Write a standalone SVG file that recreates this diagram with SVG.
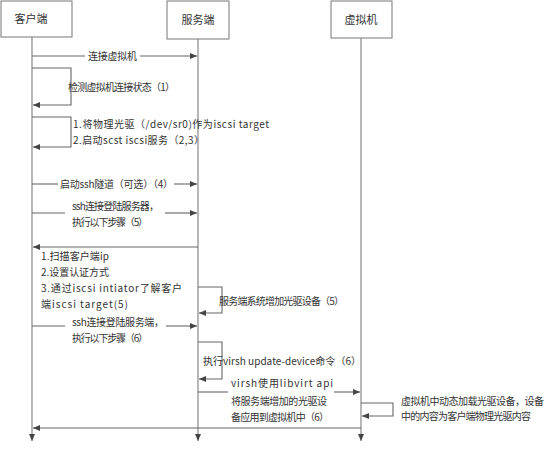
<svg xmlns="http://www.w3.org/2000/svg" width="548" height="450" viewBox="0 0 548 450">
<defs>
<marker id="ah" markerWidth="8" markerHeight="6" refX="7" refY="3" orient="auto" markerUnits="userSpaceOnUse">
<path d="M0,0 L7,3 L0,6 Z" fill="#444"/>
</marker>
</defs>
<style>
.box{fill:#fff;stroke:#777;stroke-width:1}
.life{fill:none;stroke:#888;stroke-width:1.2}
.msg{fill:none;stroke:#666;stroke-width:1.1}
text{font-family:"Noto Sans CJK SC","Liberation Sans",sans-serif;font-size:10px;fill:#333}
.lbl{text-anchor:middle;font-size:11px}
</style>
<rect x="0" y="0" width="548" height="450" fill="#fff"/>
<g id="node-client">
<rect class="box" x="1" y="1" width="71" height="36"/>
<text class="lbl" x="31" y="23">客户端</text>
<line class="life" x1="32" y1="37" x2="32" y2="441" marker-end="url(#ah)"/>
</g>
<g id="node-server">
<rect class="box" x="167" y="1" width="62" height="38"/>
<text class="lbl" x="198" y="24">服务端</text>
<line class="life" x1="198" y1="39" x2="198" y2="441" marker-end="url(#ah)"/>
</g>
<g id="node-vm">
<rect class="box" x="331" y="1" width="61" height="37"/>
<text class="lbl" x="361" y="24">虚拟机</text>
<line class="life" x1="361" y1="38" x2="361" y2="441" marker-end="url(#ah)"/>
</g>
<g id="connectors">
<line class="msg" x1="32" y1="56" x2="85" y2="56"/>
<line class="msg" x1="140" y1="56" x2="197" y2="56" marker-end="url(#ah)"/>
<polyline class="msg" points="32,68 71,68 71,105 33,105" marker-end="url(#ah)"/>
<polyline class="msg" points="32,117 71,117 71,147 33,147" marker-end="url(#ah)"/>
<line class="msg" x1="32" y1="184" x2="58" y2="184"/>
<line class="msg" x1="174" y1="184" x2="197" y2="184" marker-end="url(#ah)"/>
<line class="msg" x1="32" y1="213" x2="65" y2="213"/>
<line class="msg" x1="165" y1="213" x2="197" y2="213" marker-end="url(#ah)"/>
<line class="msg" x1="198" y1="247" x2="33" y2="247" marker-end="url(#ah)"/>
<polyline class="msg" points="198,287 222,287 222,313 199,313" marker-end="url(#ah)"/>
<line class="msg" x1="32" y1="326" x2="65" y2="326"/>
<line class="msg" x1="166" y1="326" x2="197" y2="326" marker-end="url(#ah)"/>
<polyline class="msg" points="198,342 222,342 222,379 199,379" marker-end="url(#ah)"/>
<line class="msg" x1="198" y1="392" x2="228" y2="392"/>
<line class="msg" x1="334" y1="392" x2="360" y2="392" marker-end="url(#ah)"/>
<polyline class="msg" points="361,403 393,403 393,416 362,416" marker-end="url(#ah)"/>
<line class="msg" x1="361" y1="428" x2="33" y2="428" marker-end="url(#ah)"/>
</g>
<g id="labels">
<text x="88" y="60" textLength="49" lengthAdjust="spacing">连接虚拟机</text>
<text x="68" y="91" textLength="107" lengthAdjust="spacing">检测虚拟机连接状态（1）</text>
<text x="73" y="128" textLength="196" lengthAdjust="spacing">1.将物理光驱（/dev/sr0)作为iscsi target</text>
<text x="73" y="144" textLength="131" lengthAdjust="spacing">2.启动scst iscsi服务（2,3）</text>
<text x="60" y="188" textLength="113" lengthAdjust="spacing">启动ssh隧道（可选）（4）</text>
<text x="72" y="210" textLength="87" lengthAdjust="spacing">ssh连接登陆服务器，</text>
<text x="72" y="226" textLength="76" lengthAdjust="spacing">执行以下步骤（5）</text>
<text x="41" y="260" textLength="68" lengthAdjust="spacing">1.扫描客户端ip</text>
<text x="41" y="276" textLength="68" lengthAdjust="spacing">2.设置认证方式</text>
<text x="41" y="292" textLength="141" lengthAdjust="spacing">3.通过iscsi intiator了解客户</text>
<text x="41" y="308" textLength="87" lengthAdjust="spacing">端iscsi target(5)</text>
<text x="219" y="305" textLength="125" lengthAdjust="spacing">服务端系统增加光驱设备（5）</text>
<text x="72" y="326" textLength="92" lengthAdjust="spacing">ssh连接登陆服务端，</text>
<text x="72" y="342" textLength="76" lengthAdjust="spacing">执行以下步骤（6）</text>
<text x="203" y="365" textLength="158" lengthAdjust="spacing">执行virsh update-device命令（6）</text>
<text x="231" y="387" textLength="102" lengthAdjust="spacing">virsh使用libvirt api</text>
<text x="231" y="405" textLength="96" lengthAdjust="spacing">将服务端增加的光驱设</text>
<text x="231" y="421" textLength="98" lengthAdjust="spacing">备应用到虚拟机中（6）</text>
<text x="401" y="405" textLength="143" lengthAdjust="spacing">虚拟机中动态加载光驱设备，设备</text>
<text x="401" y="420" textLength="130" lengthAdjust="spacing">中的内容为客户端物理光驱内容</text>
</g>
</svg>
